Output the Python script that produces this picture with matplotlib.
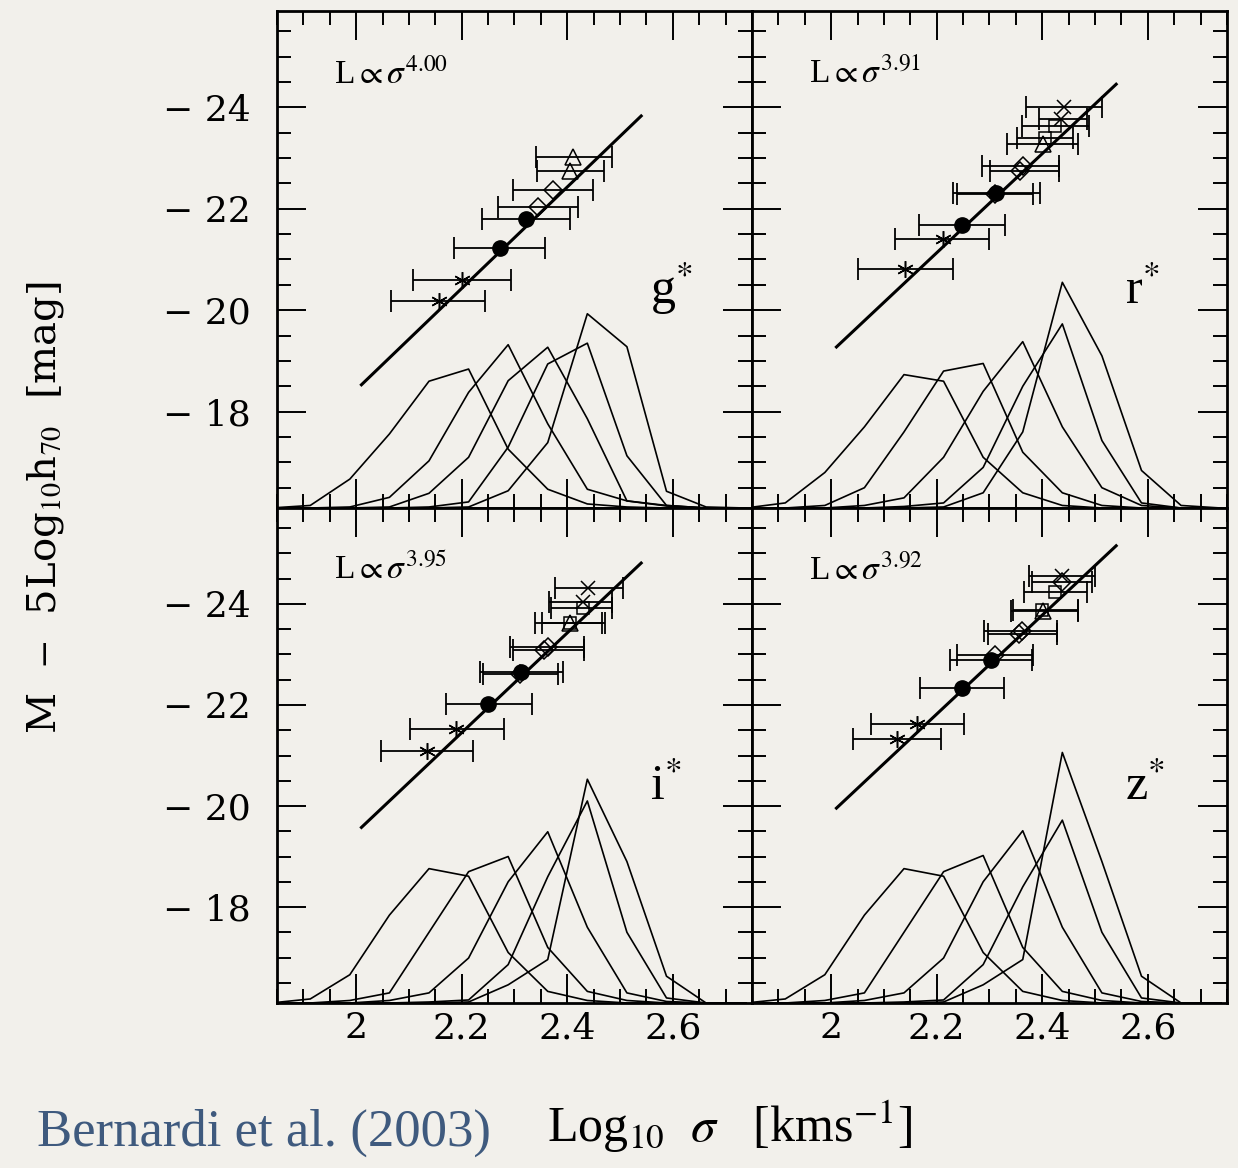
import matplotlib
matplotlib.use("Agg")
import matplotlib.pyplot as plt
import numpy as np
from matplotlib.ticker import MultipleLocator, FixedLocator

plt.rcParams['mathtext.fontset'] = 'stix'
plt.rcParams['font.family'] = ['DejaVu Serif']

BG = '#f2f0eb'

# ---- data (log sigma, magnitude) ----
bands = ['g', 'r', 'i', 'z']
slopes = [4.00, 3.91, 3.95, 3.92]
# fit line: magnitude at log sigma = 2.3
line_m0 = [-21.43, -22.11, -22.44, -22.80]
line_x = [2.01, 2.54]

# points per band: marker, x, mag, x_lo, x_hi
pts_g = [
    ('ast', 2.156, -20.19, 2.066, 2.244),
    ('ast', 2.200, -20.59, 2.107, 2.293),
    ('circ', 2.273, -21.23, 2.186, 2.358),
    ('circ', 2.322, -21.80, 2.238, 2.405),
    ('dia', 2.345, -22.04, 2.269, 2.420),
    ('dia', 2.373, -22.37, 2.298, 2.448),
    ('tri', 2.405, -22.75, 2.342, 2.470),
    ('tri', 2.411, -23.02, 2.340, 2.485),
]
pts_r = [
    ('ast', 2.140, -20.81, 2.050, 2.230),
    ('ast', 2.211, -21.40, 2.121, 2.299),
    ('circ', 2.248, -21.69, 2.166, 2.329),
    ('dia', 2.310, -22.30, 2.238, 2.383),
    ('circ', 2.312, -22.32, 2.231, 2.396),
    ('dia', 2.358, -22.75, 2.301, 2.431),
    ('dia', 2.364, -22.85, 2.285, 2.431),
    ('tri', 2.402, -23.28, 2.334, 2.468),
    ('sq', 2.405, -23.39, 2.353, 2.458),
    ('sq', 2.424, -23.63, 2.362, 2.489),
    ('x', 2.436, -23.77, 2.394, 2.484),
    ('x', 2.442, -24.01, 2.369, 2.514),
]
pts_i = [
    ('ast', 2.134, -21.09, 2.048, 2.222),
    ('ast', 2.190, -21.53, 2.102, 2.280),
    ('circ', 2.250, -22.02, 2.170, 2.333),
    ('dia', 2.310, -22.62, 2.240, 2.383),
    ('circ', 2.312, -22.65, 2.235, 2.391),
    ('dia', 2.356, -23.08, 2.298, 2.432),
    ('dia', 2.364, -23.14, 2.291, 2.432),
    ('tri', 2.405, -23.62, 2.339, 2.471),
    ('sq', 2.405, -23.62, 2.352, 2.465),
    ('sq', 2.429, -23.92, 2.370, 2.485),
    ('x', 2.430, -24.03, 2.366, 2.484),
    ('x', 2.440, -24.32, 2.377, 2.505),
]
pts_z = [
    ('ast', 2.124, -21.33, 2.041, 2.208),
    ('ast', 2.162, -21.63, 2.075, 2.252),
    ('circ', 2.247, -22.34, 2.168, 2.328),
    ('dia', 2.310, -22.98, 2.238, 2.383),
    ('circ', 2.303, -22.89, 2.225, 2.380),
    ('dia', 2.356, -23.40, 2.298, 2.427),
    ('dia', 2.361, -23.47, 2.290, 2.427),
    ('tri', 2.402, -23.86, 2.341, 2.467),
    ('sq', 2.400, -23.88, 2.345, 2.467),
    ('sq', 2.424, -24.23, 2.366, 2.484),
    ('dia', 2.437, -24.43, 2.380, 2.495),
    ('x', 2.437, -24.56, 2.375, 2.499),
]
points = [pts_g, pts_r, pts_i, pts_z]

# sigma distributions in magnitude bins (height above the lower axis edge, mag units)
hist_x = [1.838, 1.913, 1.988, 2.063, 2.138, 2.213, 2.288, 2.363, 2.438, 2.513, 2.588, 2.663, 2.738]
hist_g = [
    [0, 0.05, 0.57, 1.46, 2.50, 2.74, 1.16, 0.37, 0.08, 0.02, 0, 0, 0],
    [0, 0, 0.02, 0.21, 0.93, 2.28, 3.22, 1.66, 0.37, 0.14, 0.05, 0, 0],
    [0, 0, 0, 0.02, 0.29, 1.00, 2.51, 3.17, 1.76, 0.14, 0.04, 0, 0],
    [0, 0, 0, 0, 0.02, 0.12, 1.20, 2.84, 3.25, 1.03, 0.05, 0, 0],
    [0, 0, 0, 0, 0, 0.02, 0.34, 1.29, 3.83, 3.18, 0.33, 0.02, 0],
]
hist_r = [
    [0, 0.10, 0.70, 1.60, 2.63, 2.50, 1.00, 0.30, 0.05, 0, 0, 0, 0],
    [0, 0, 0.05, 0.40, 1.50, 2.70, 2.85, 1.10, 0.30, 0.05, 0, 0, 0],
    [0, 0, 0, 0.05, 0.20, 1.00, 2.30, 3.28, 1.60, 0.40, 0.05, 0, 0],
    [0, 0, 0, 0, 0.03, 0.10, 0.80, 2.40, 3.63, 1.33, 0.10, 0, 0],
    [0, 0, 0, 0, 0, 0.02, 0.30, 1.50, 4.45, 3.00, 0.74, 0.05, 0],
]
hist_i = [
    [0, 0.08, 0.56, 1.74, 2.66, 2.51, 1.00, 0.23, 0.05, 0, 0, 0, 0],
    [0, 0, 0.05, 0.20, 1.40, 2.60, 2.90, 1.10, 0.23, 0.05, 0, 0, 0],
    [0, 0, 0, 0.05, 0.20, 0.89, 2.40, 3.39, 1.50, 0.20, 0.03, 0, 0],
    [0, 0, 0, 0, 0.02, 0.06, 0.76, 2.50, 4.00, 1.40, 0.10, 0, 0],
    [0, 0, 0, 0, 0, 0.02, 0.36, 0.86, 4.43, 2.80, 0.53, 0, 0],
]
hist_z = [
    [0, 0.08, 0.56, 1.74, 2.66, 2.51, 1.00, 0.23, 0.05, 0, 0, 0, 0],
    [0, 0, 0.05, 0.20, 1.40, 2.60, 2.92, 1.10, 0.23, 0.05, 0, 0, 0],
    [0, 0, 0, 0.05, 0.20, 0.89, 2.40, 3.41, 1.50, 0.20, 0.03, 0, 0],
    [0, 0, 0, 0, 0.02, 0.06, 0.76, 2.30, 3.62, 1.40, 0.10, 0, 0],
    [0, 0, 0, 0, 0, 0.02, 0.36, 0.86, 4.96, 2.80, 0.53, 0, 0],
]
hists = [hist_g, hist_r, hist_i, hist_z]

xlim = (1.85, 2.75)
ylim = (-16.1, -25.9)
y_base = ylim[0]

mstyle = {
    'ast': dict(marker=(6, 2, 0), ms=12, mfc='k', mec='k', mew=1.1),
    'circ': dict(marker='o', ms=11, mfc='k', mec='k', mew=1.0),
    'dia': dict(marker='D', ms=9, mfc='none', mec='k', mew=1.1),
    'tri': dict(marker='^', ms=11, mfc='none', mec='k', mew=1.1),
    'sq': dict(marker='s', ms=9, mfc='none', mec='k', mew=1.1),
    'x': dict(marker='x', ms=10, mfc='none', mec='k', mew=1.1),
}

fig = plt.figure(figsize=(12.38, 11.68), dpi=100)
fig.patch.set_facecolor(BG)

W = 475 / 1238
boxes = [
    (277 / 1238, 1 - 508 / 1168, W, 497 / 1168),
    (752 / 1238, 1 - 508 / 1168, W, 497 / 1168),
    (277 / 1238, 1 - 1003 / 1168, W, 495 / 1168),
    (752 / 1238, 1 - 1003 / 1168, W, 495 / 1168),
]

for n in range(4):
    ax = fig.add_axes(boxes[n])
    ax.set_facecolor(BG)
    ax.set_xlim(*xlim)
    ax.set_ylim(*ylim)

    for h in hists[n]:
        ax.plot(hist_x, y_base - np.array(h), color='k', lw=1.2, zorder=2)

    lx = np.array(line_x)
    ly = line_m0[n] - 2.5 * slopes[n] * (lx - 2.3)
    ax.plot(lx, ly, color='k', lw=2.2, zorder=3)

    for kind, x, m, lo, hi in points[n]:
        ax.errorbar([x], [m], xerr=[[x - lo], [hi - x]], fmt='none', ecolor='k',
                    elinewidth=1.3, capsize=8, capthick=1.3, zorder=4)
        ax.plot([x], [m], ls='none', zorder=5, **mstyle[kind])

    ax.text(0.12, 0.855, r'L$\propto\sigma^{%.2f}$' % slopes[n], transform=ax.transAxes,
            fontsize=24, family='Liberation Serif')
    ax.text(0.785, 0.41, bands[n] + r'$^{*}$', transform=ax.transAxes,
            fontsize=36, family='Liberation Serif')

    ax.xaxis.set_major_locator(FixedLocator([2.0, 2.2, 2.4, 2.6]))
    ax.xaxis.set_minor_locator(MultipleLocator(0.05))
    ax.yaxis.set_major_locator(FixedLocator([-24, -22, -20, -18]))
    ax.yaxis.set_minor_locator(MultipleLocator(0.5))
    ax.tick_params(which='both', direction='in', top=True, right=True, width=1.4, color='k')
    ax.tick_params(which='major', length=21)
    ax.tick_params(which='minor', length=10)
    ax.tick_params(axis='y', pad=19, labelsize=26)
    ax.tick_params(axis='x', pad=6, labelsize=26)
    for sp in ax.spines.values():
        sp.set_linewidth(2.0)

    if n < 2:
        ax.set_xticklabels([])
    else:
        ax.set_xticklabels(['2', '2.2', '2.4', '2.6'])
    if n % 2 == 1:
        ax.set_yticklabels([])
    else:
        ax.set_yticklabels(['\u2212 24', '\u2212 22', '\u2212 20', '\u2212 18'])

fig.text(46 / 1238, 1 - 508 / 1168, r'M  $-$  5Log$_{10}$h$_{70}$  [mag]', rotation=90,
         ha='center', va='center', fontsize=29, family='DejaVu Serif')
fig.text(730 / 1238, 1 - 1127 / 1168, r'Log$_{10}$  $\sigma$   [kms$^{-1}$]',
         ha='center', va='center', fontsize=36, family='Liberation Serif')
fig.text(37 / 1238, 1 - 1133 / 1168, 'Bernardi et al. (2003)', ha='left', va='center',
         fontsize=38, family='Liberation Serif', color='#3f5a7e')

fig.savefig('out.png', dpi=100, facecolor=BG)
